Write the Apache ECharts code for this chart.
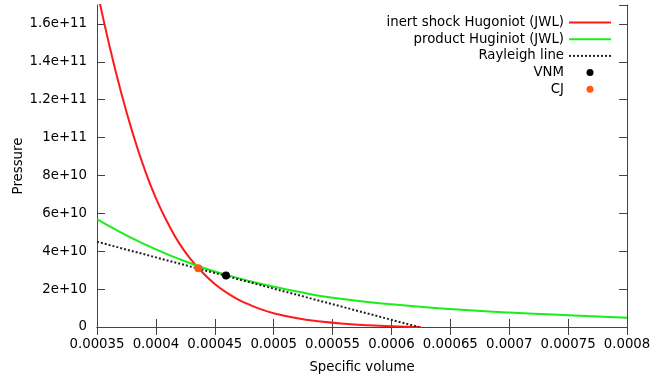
<!DOCTYPE html>
<html>
<head>
<meta charset="utf-8">
<script src="https://cdn.jsdelivr.net/npm/echarts@6/dist/echarts.min.js"></script>
<style>
  html, body { margin: 0; padding: 0; background: #fff; }
  #chart { width: 651px; height: 379px; }
</style>
</head>
<body>
<div id="chart"></div>
<script>
// specific volume / pressure
const inertVol = [0.00035, 0.00036, 0.00037, 0.00038, 0.00039, 0.0004, 0.00041, 0.00042, 0.00043, 0.00044,
  0.00045, 0.00046, 0.00047, 0.00048, 0.00049, 0.0005, 0.00052, 0.00054, 0.00056, 0.00058, 0.0006, 0.00062, 0.000625];
const inertP = [1.78e11, 1.5e11, 1.25e11, 1.03e11, 8.4e10, 6.8e10, 5.5e10, 4.4e10, 3.55e10, 2.85e10,
  2.27e10, 1.82e10, 1.45e10, 1.16e10, 9.2e9, 7.3e9, 4.6e9, 2.9e9, 1.7e9, 9e8, 3.5e8, 5e7, 0];

const productVol = [0.00035, 0.00036, 0.00037, 0.00038, 0.00039, 0.0004, 0.00042, 0.00044, 0.00046, 0.00048,
  0.0005, 0.00052, 0.00055, 0.0006, 0.00065, 0.0007, 0.00075, 0.0008];
const productP = [5.7e10, 5.34e10, 5.0e10, 4.68e10, 4.38e10, 4.1e10, 3.58e10, 3.13e10, 2.75e10, 2.42e10,
  2.13e10, 1.87e10, 1.54e10, 1.2e10, 9.5e9, 7.6e9, 6.2e9, 4.9e9];

const rayleighVol = [0.00035, 0.000623];
const rayleighP = [4.5e10, 0];

const vnm = [0.0004595, 2.72e10];
const cj = [0.000436, 3.1e10];

const zip = (xs, ys) => xs.map((x, i) => [x, ys[i]]);

const chart = echarts.init(document.getElementById('chart'));

const font = 'DejaVu Sans';
const axisColor = '#444';
const txt = { fontFamily: font, fontSize: 13.3, color: '#000' };

const tickLabelX = v => String(+v.toPrecision(6));
const tickLabelY = v => (v === 0 ? '0' : v.toExponential());

const noSymbol = { itemStyle: { opacity: 0 } };

const option = {
  animation: false,
  textStyle: { fontFamily: font },
  grid: { left: 97, right: 24, top: 5, bottom: 52, outerBoundsMode: 'none' },
  legend: {
    orient: 'vertical',
    right: 34,
    top: 11,
    align: 'right',
    itemWidth: 42,
    itemHeight: 7,
    itemGap: 3.7,
    textStyle: txt,
    data: [
      Object.assign({ name: 'inert shock Hugoniot (JWL)' }, noSymbol),
      Object.assign({ name: 'product Huginiot (JWL)' }, noSymbol),
      Object.assign({ name: 'Rayleigh line' }, noSymbol),
      'VNM',
      'CJ'
    ]
  },
  xAxis: [
    {
      type: 'value',
      min: 0.00035,
      max: 0.0008,
      interval: 0.00005,
      name: 'Specific volume',
      nameLocation: 'middle',
      nameGap: 34,
      nameTextStyle: txt,
      axisLine: { lineStyle: { color: axisColor } },
      axisTick: { inside: true, length: 8, lineStyle: { color: axisColor } },
      axisLabel: Object.assign({ margin: 11, formatter: tickLabelX }, txt),
      splitLine: { show: false }
    },
    {
      type: 'value',
      position: 'top',
      min: 0.00035,
      max: 0.0008,
      interval: 0.00005,
      axisLine: { lineStyle: { color: axisColor } },
      axisTick: { inside: true, length: 8, lineStyle: { color: axisColor } },
      axisLabel: { show: false },
      splitLine: { show: false }
    }
  ],
  yAxis: [
    {
      type: 'value',
      min: 0,
      max: 1.7e11,
      interval: 2e10,
      name: 'Pressure',
      nameLocation: 'middle',
      nameGap: 72,
      nameMoveOverlap: false,
      nameTextStyle: txt,
      axisLine: { show: true, lineStyle: { color: axisColor } },
      axisTick: { show: true, inside: true, length: 8, lineStyle: { color: axisColor } },
      axisLabel: Object.assign({ margin: 10, showMaxLabel: false, formatter: tickLabelY }, txt),
      splitLine: { show: false }
    },
    {
      type: 'value',
      position: 'right',
      min: 0,
      max: 1.7e11,
      interval: 2e10,
      axisLine: { show: true, lineStyle: { color: axisColor } },
      axisTick: { show: true, inside: true, length: 8, lineStyle: { color: axisColor } },
      axisLabel: { show: false },
      splitLine: { show: false }
    }
  ],
  series: [
    {
      name: 'inert shock Hugoniot (JWL)',
      type: 'line',
      data: zip(inertVol, inertP),
      smooth: 0.5,
      symbol: 'none',
      clip: true,
      color: '#ff1a1a',
      lineStyle: { color: '#ff1a1a', width: 2 },
      z: 3
    },
    {
      name: 'product Huginiot (JWL)',
      type: 'line',
      data: zip(productVol, productP),
      smooth: 0.5,
      symbol: 'none',
      color: '#1aee1a',
      lineStyle: { color: '#1aee1a', width: 2 },
      z: 3
    },
    {
      name: 'Rayleigh line',
      type: 'line',
      data: zip(rayleighVol, rayleighP),
      symbol: 'none',
      color: '#222',
      lineStyle: { color: '#222', width: 2, type: [2, 2] },
      z: 4
    },
    {
      name: 'VNM',
      type: 'scatter',
      data: [vnm],
      symbol: 'circle',
      symbolSize: 8,
      itemStyle: { color: '#000', opacity: 1 },
      z: 5
    },
    {
      name: 'CJ',
      type: 'scatter',
      data: [cj],
      symbol: 'circle',
      symbolSize: 8,
      itemStyle: { color: '#ff5a14', opacity: 1 },
      z: 5
    }
  ]
};

chart.setOption(option);
</script>
</body>
</html>
